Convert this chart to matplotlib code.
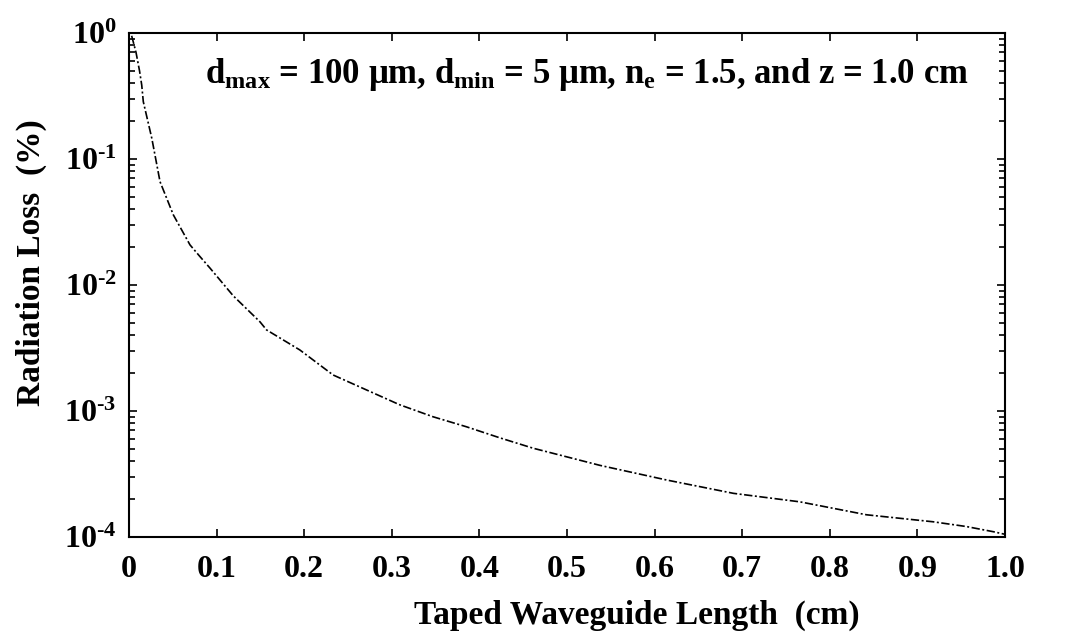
import numpy as np
import matplotlib
matplotlib.use('Agg')
import matplotlib.pyplot as plt
from matplotlib.ticker import FixedLocator, LogLocator, NullFormatter

plt.rcParams['font.family'] = ['Liberation Serif', 'DejaVu Serif']
plt.rcParams['font.weight'] = 'bold'
plt.rcParams['mathtext.fontset'] = 'custom'
plt.rcParams['mathtext.rm'] = 'Liberation Serif:bold'
plt.rcParams['mathtext.bf'] = 'Liberation Serif:bold'
plt.rcParams['mathtext.it'] = 'Liberation Serif:bold'

# values
length_cm = [0.003, 0.008, 0.012, 0.0145, 0.0163, 0.026, 0.0354, 0.0506, 0.0696,
             0.081, 0.0925, 0.119, 0.1495, 0.157, 0.195, 0.233, 0.271, 0.309,
             0.347, 0.385, 0.424, 0.4615, 0.5377, 0.614, 0.690, 0.766, 0.842,
             0.918, 0.956, 0.987, 1.0]
loss_pct = [0.95, 0.7, 0.5, 0.386, 0.285, 0.146, 0.066, 0.036, 0.0208,
            0.0168, 0.0136, 0.0082, 0.0051, 0.0044, 0.00305, 0.00193, 0.00147, 0.00112,
            0.0009, 0.00075, 0.00061, 0.000506, 0.00037, 0.000283, 0.000222, 0.00019, 0.00015,
            0.000132, 0.000121, 0.00011, 0.000105]

x_ticks = [0, 0.1, 0.2, 0.3, 0.4, 0.5, 0.6, 0.7, 0.8, 0.9, 1.0]
x_tick_labels = ['0', '0.1', '0.2', '0.3', '0.4', '0.5', '0.6', '0.7', '0.8', '0.9', '1.0']
y_ticks = [1e-4, 1e-3, 1e-2, 1e-1, 1e0]
y_tick_labels = ['$10^{\u20104}$', '$10^{\u20103}$', '$10^{\u20102}$', '$10^{\u20101}$', '$10^{0}$']

fig = plt.figure(figsize=(10.77, 6.33), dpi=100)
ax = fig.add_axes([0.1198, 0.1517, 0.8133, 0.7962])

ax.semilogy(length_cm, loss_pct, color='black', lw=1.2, ls=(0, (5, 1.5, 1.2, 1.5)))

ax.set_xlim(0, 1.0)
ax.set_ylim(1e-4, 1e0)
ax.xaxis.set_major_locator(FixedLocator(x_ticks))
ax.set_xticklabels(x_tick_labels)
ax.yaxis.set_major_locator(FixedLocator(y_ticks))
ax.set_yticklabels(y_tick_labels)
ax.yaxis.set_minor_locator(LogLocator(base=10, subs=np.arange(2, 10)))
ax.yaxis.set_minor_formatter(NullFormatter())

ax.tick_params(which='both', direction='in', top=True, right=True, width=1.2)
ax.tick_params(which='major', length=6, labelsize=23)
ax.tick_params(axis='x', which='major', pad=13)
ax.tick_params(axis='y', which='major', pad=9)
ax.tick_params(which='minor', length=4)
for s in ax.spines.values():
    s.set_linewidth(1.5)

ax.set_xlabel('Taped Waveguide Length  (cm)', fontsize=24, fontweight='bold', labelpad=8)
ax.xaxis.set_label_coords(0.58, -0.125)
ax.set_ylabel('Radiation Loss  (%)', fontsize=24, fontweight='bold', labelpad=8)
ax.yaxis.set_label_coords(-0.094, 0.545)

ax.text(0.523, 0.918,
        r'd$_{\rm max}$ = 100 $\mu$m, d$_{\rm min}$ = 5 $\mu$m, n$_{\rm e}$ = 1.5, and z = 1.0 cm',
        transform=ax.transAxes, ha='center', va='center', fontsize=25, fontweight='bold')

fig.savefig('out.png', dpi=100)
